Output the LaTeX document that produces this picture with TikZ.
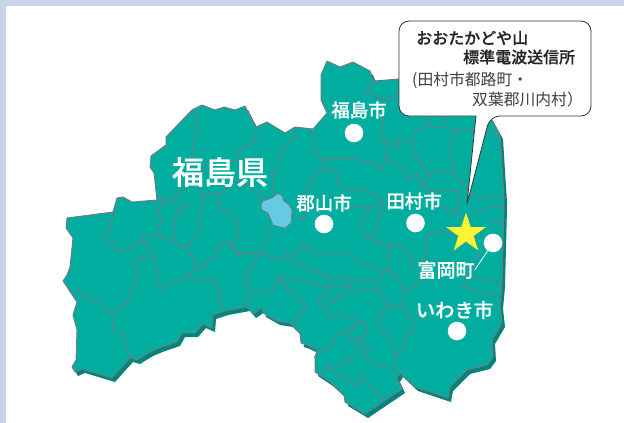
\documentclass[tikz,border=0pt]{standalone}
\usepackage{fontspec}
\newfontfamily\jp{Noto Sans CJK JP}
\newfontfamily\jpm[FakeBold=0.5]{Noto Sans CJK JP Medium}
\definecolor{band}{HTML}{C9D3EC}
\definecolor{teal}{HTML}{00AD9F}
\definecolor{tealdark}{HTML}{00857B}
\definecolor{border}{HTML}{7B7583}
\definecolor{lake}{HTML}{66C9E6}
\definecolor{starc}{HTML}{FFF133}
\usetikzlibrary{shapes.geometric}
\newcommand\fkoutline{(192,110)--(202,105)--(215,110)--(224,107)--(235,110)--(245,106)--(248,112)--(256,127)--(267,122)--(285,133)--(295,127)--(313,129)--(327,113)--(321,100)--(321,75)--(327,61)--(340,67)--(353,62)--(370,71)--(374,81)--(399,79)--(445,76)--(490,117)--(500,135)--(502,167)--(504,198)--(504,205)--(502,283)--(500,305)--(502,323)--(492,340)--(493,357)--(487,365)--(467,370)--(450,387)--(448,398)--(415,387)--(400,373)--(397,378)--(402,389)--(365,414)--(345,402)--(344,395)--(330,382)--(315,372)--(315,358)--(317,350)--(307,345)--(301,343)--(300,333)--(290,323)--(277,321)--(263,313)--(262,308)--(253,314)--(247,307)--(225,311)--(213,315)--(212,328)--(203,324)--(195,333)--(182,333)--(177,342)--(162,347)--(150,352)--(137,360)--(130,358)--(112,378)--(82,369)--(75,372)--(72,367)--(76,360)--(77,330)--(73,315)--(77,302)--(63,281)--(67,275)--(70,267)--(73,238)--(66,228)--(67,218)--(113,212)--(117,198)--(123,197)--(132,202)--(157,200)--(154,173)--(150,167)--(151,156)--(166,145)--(166,137)--cycle}
\tikzset{
 mapfill/.style={fill=teal,draw=border,line width=0.9pt,line join=round},
 shadowfill/.style={fill=tealdark},
 seam/.style={draw=border,line width=0.75pt,line join=round},
 town/.style={fill=white,circle,minimum size=18.6pt,inner sep=0pt},
 place/.style={text=white,font=\jpm\fontsize{18.4}{18}\selectfont,inner sep=0pt},
 boxtext/.style={text=black!85,anchor=west,inner sep=0pt},
 boxhead/.style={boxtext,font=\jpm\fontsize{16}{16}\selectfont},
 boxsub/.style={boxtext,font=\jp\fontsize{15.8}{16}\selectfont,text=black!75},
}
\begin{document}
\begin{tikzpicture}[x=1pt,y=-1pt]
\useasboundingbox (0,0) rectangle (624,423);
\fill[white] (0,0) rectangle (624,423);
\fill[band] (0,0) rectangle (624,5.5);
\fill[band] (0,0) rectangle (5.8,423);
% map
\fill[shadowfill,shift={(3,4)}] \fkoutline;
\path[mapfill] \fkoutline;
% west
\draw[seam] (195,110)--(198,127)--(193,145)--(192,157)--(190,175)--(185,188)--(172,200)--(158,198)--(163,203)--(183,203)--(187,207)--(177,212)--(174,227)--(175,237)--(173,241);
\draw[seam] (163,203)--(157,211)--(162,221)--(158,227)--(162,237);
\draw[seam] (114,212)--(110,228)--(104,236)--(107,244)--(113,243)--(115,248)--(123,252)--(142,240)--(143,234)--(162,237)--(173,241)--(181,247)--(186,245)--(199,236)--(201,227)--(198,219)--(202,212)--(200,187)--(200,172)--(208,162)--(241,160)--(238,153)--(256,138)--(256,127);
\draw[seam] (186,245)--(197,266)--(205,267)--(208,259)--(217,257)--(217,250)--(223,243)--(229,243)--(238,255)--(242,252)--(260,253);
\draw[seam] (229,243)--(238,238)--(240,228)--(233,214)--(218,207)--(217,195);
\draw[seam] (202,198)--(210,193)--(225,194)--(226,185);
\draw[seam] (218,246)--(217,250);
\draw[seam] (233,180)--(253,187)--(263,200);
\draw[seam] (273,172)--(272,197);
\draw[seam] (267,172)--(278,172)--(278,157)--(293,138)--(296,127);
\draw[seam] (229,243)--(238,252)--(260,253)--(267,240)--(270,225);
\draw[seam] (292,215)--(304,219)--(305,202)--(305,190)--(311,186)--(312,178)--(325,168);
\draw[seam] (142,240)--(148,245)--(149,252)--(155,257)--(142,257)--(135,263)--(137,280)--(127,302)--(112,313)--(103,307)--(103,298)--(90,301)--(78,290)--(73,293);
\draw[seam] (155,257)--(156,268)--(159,272)--(157,278)--(158,289)--(162,289)--(168,283)--(177,282)--(188,275)--(197,266);
\draw[seam] (188,275)--(198,282)--(213,280)--(222,293)--(218,300)--(225,311);
\draw[seam] (112,313)--(113,330)--(122,333)--(130,358);
% south centre
\draw[seam] (261,253)--(250,270)--(245,283)--(252,293)--(273,290)--(279,277)--(290,293)--(293,291)--(306,306)--(293,325);
\draw[seam] (252,293)--(246,303)--(247,309);
\draw[seam] (261,253)--(275,258)--(286,258)--(328,277)--(329,288)--(324,295)--(335,303)--(338,295)--(352,293)--(367,288)--(378,290);
\draw[seam] (286,258)--(287,253)--(297,252)--(303,244)--(306,244)--(311,252)--(347,253)--(353,258)--(382,272);
\draw[seam] (279,277)--(329,288)--(351,286)--(350,280)--(329,277);
\draw[seam] (350,280)--(378,282);
\draw[seam] (382,272)--(378,282)--(378,290)--(389,305)--(403,307)--(404,292)--(399,278)--(389,271)--cycle;
\draw[seam] (389,271)--(388,260)--(390,246)--(398,246)--(410,253)--(412,266)--(420,266);
\draw[seam] (404,292)--(420,282)--(426,252)--(427,233)--(445,232)--(457,237);
\draw[seam] (389,305)--(378,317)--(379,328)--(390,337)--(395,356)--(404,347)--(405,337)--(415,330)--(413,320)--(403,307);
\draw[seam] (395,356)--(396,370)--(372,363)--(362,355)--(369,350)--(363,345)--(350,355)--(349,363)--(345,361)--(337,366)--(327,366)--(322,374);
\draw[seam] (327,367)--(349,381)--(357,387)--(360,376)--(383,400);
\draw[seam] (363,345)--(362,338)--(367,330)--(367,323)--(360,322)--(350,332)--(350,337)--(357,343)--(358,337)--(362,340);
\draw[seam] (360,322)--(342,315)--(330,317)--(327,316)--(326,308)--(316,300)--(324,295);
\draw[seam] (350,330)--(337,335)--(328,348)--(317,353)--(314,358);
% north east
\draw[seam] (374,81)--(366,92)--(383,100)--(399,95);
\draw[seam] (383,100)--(382,138)--(391,142)--(396,147)--(400,139)--(412,142)--(415,132)--(428,126)--(447,127)--(458,132)--(450,142)--(453,170)--(465,188)--(478,197)--(503,198);
\draw[seam] (428,126)--(428,115);
\draw[seam] (437,115)--(447,119);
\draw[seam] (458,132)--(470,128)--(473,132)--(487,130)--(500,137);
\draw[seam] (312,130)--(315,146)--(313,150)--(323,160)--(325,168)--(336,172)--(338,185)--(352,192)--(358,189)--(373,193)--(383,202)--(370,208)--(361,224)--(363,235)--(373,240)--(385,246)--(393,245)--(398,246);
\draw[seam] (324,160)--(343,158)--(372,162)--(382,170)--(386,157)--(387,148)--(382,138);
\draw[seam] (386,157)--(407,171)--(407,179)--(418,174)--(422,187)--(443,192)--(457,190)--(459,195)--(455,213)--(467,220);
\draw[seam] (412,142)--(415,155)--(428,173)--(453,170);
\draw[seam] (429,173)--(422,187);
\draw[seam] (383,202)--(373,240);
\draw[seam] (350,207)--(370,208);
\draw[seam] (440,207)--(455,213);
\draw[seam] (465,215)--(480,210)--(492,206)--(503,208);
\draw[seam] (490,220)--(503,222);
\draw[seam] (477,237)--(483,235);
\draw[seam] (472,277)--(502,283);
\draw[seam] (479,252)--(463,285)--(480,293)--(500,297);
% lake
\path[fill=lake,draw=border,line width=0.7pt,line join=round] (261,205)--(263,201)--(272,198)--(278,193)--(283,197)--(283,200)--(289,205)--(292,210)--(291,223)--(285,228)--(273,225)--(268,213)--(262,210)--cycle;
% towns
\node[town] (dotF) at (354,133) {};
\node[town] (dotK) at (324,224) {};
\node[town] (dotT) at (415.5,223) {};
\node[town] (dotO) at (493,243) {};
\node[town] (dotI) at (457,331) {};
\node[place] (labF) at (359,110) {福島市};
\node[place] (labK) at (324,203) {郡山市};
\node[place] (labT) at (414,201) {田村市};
\node[place,font=\jpm\fontsize{19}{19}\selectfont] (labO) at (446,270) {富岡町};
\node[place,font=\jpm\fontsize{19.3}{19}\selectfont] (labI) at (454.5,310) {いわき市};
\node[place,font=\jpm\fontsize{32}{33}\selectfont] (labP) at (220,172) {福島県};
\draw[white,line width=0.8pt] (dotO) -- (labO.east);
% star
\node[star,star points=5,star point ratio=2.618,fill=starc,minimum size=42pt,inner sep=0pt] (mark) at (466,233.5) {};
% callout
\path[fill=white,draw=black!80,line width=0.8pt,line join=miter,rounded corners=10pt] (399,70) -- (399,21) -- (591,21) -- (591,116) -- (490,116) [sharp corners] -- (467,204) -- (476,116) -- (476,116) [rounded corners=10pt] -- (399,116) -- cycle;
\node[boxhead] (h1) at (416,38) {おおたかどや山};
\node[boxhead] (h2) at (463,57) {標準電波送信所};
\node[boxsub] (s1) at (412,80) {(田村市都路町・};
\node[boxsub] (s2) at (472,99) {双葉郡川内村）};
\end{tikzpicture}
\end{document}
